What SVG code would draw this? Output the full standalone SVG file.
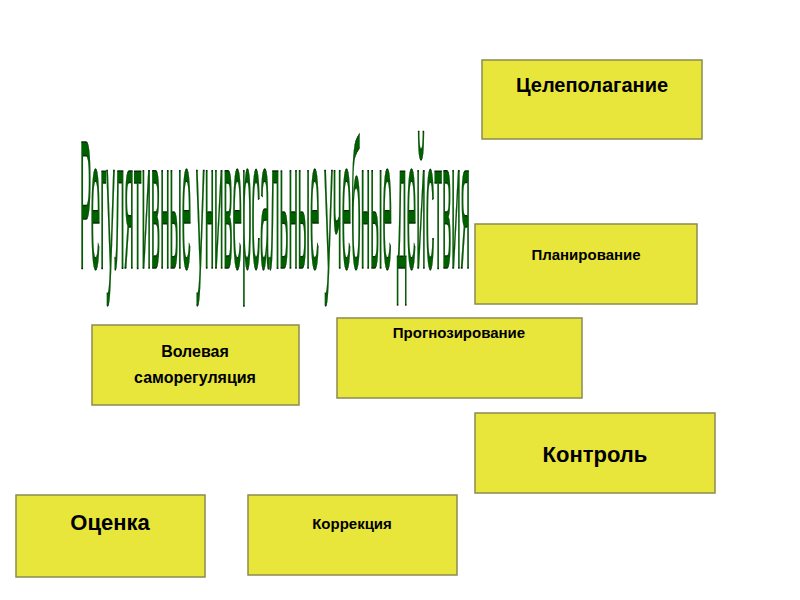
<svg xmlns="http://www.w3.org/2000/svg" width="800" height="600" viewBox="0 0 800 600">
<style>
.box{fill:#e8e63a;stroke:#8c8a50;stroke-width:1.5}
.lbl{font-family:"Liberation Sans",Arial,sans-serif;font-weight:bold;fill:#000;text-anchor:middle}
.title{font-family:"Liberation Sans",Arial,sans-serif;fill:#006000;stroke:#0a2a0a;stroke-width:1}
</style>
<rect width="800" height="600" fill="#fff"/>
<g id="title" transform="translate(80,268) scale(1,10.8)">
<text class="title" x="0" y="0" font-size="17" textLength="390" lengthAdjust="spacingAndGlyphs" vector-effect="non-scaling-stroke">Регулятивные универсальные учебные действия</text>
</g>
<g id="connectors"></g>
<g id="n-celepolaganie">
<rect class="box" x="482" y="60" width="220" height="79"/>
<text class="lbl" x="592" y="92" font-size="20">Целеполагание</text>
</g>
<g id="n-planirovanie">
<rect class="box" x="475" y="224" width="222" height="80"/>
<text class="lbl" x="586" y="260" font-size="15">Планирование</text>
</g>
<g id="n-volevaya">
<rect class="box" x="92" y="325" width="207" height="80"/>
<text class="lbl" x="195" y="357" font-size="16">Волевая</text>
<text class="lbl" x="195" y="383" font-size="16">саморегуляция</text>
</g>
<g id="n-prognoz">
<rect class="box" x="337" y="318" width="245" height="80"/>
<text class="lbl" x="459" y="338" font-size="15">Прогнозирование</text>
</g>
<g id="n-kontrol">
<rect class="box" x="475" y="413" width="240" height="80"/>
<text class="lbl" x="595" y="462" font-size="22">Контроль</text>
</g>
<g id="n-ocenka">
<rect class="box" x="16" y="495" width="189" height="82"/>
<text class="lbl" x="110" y="530" font-size="22">Оценка</text>
</g>
<g id="n-korrekciya">
<rect class="box" x="248" y="495" width="209" height="80"/>
<text class="lbl" x="352" y="529" font-size="15">Коррекция</text>
</g>
</svg>
